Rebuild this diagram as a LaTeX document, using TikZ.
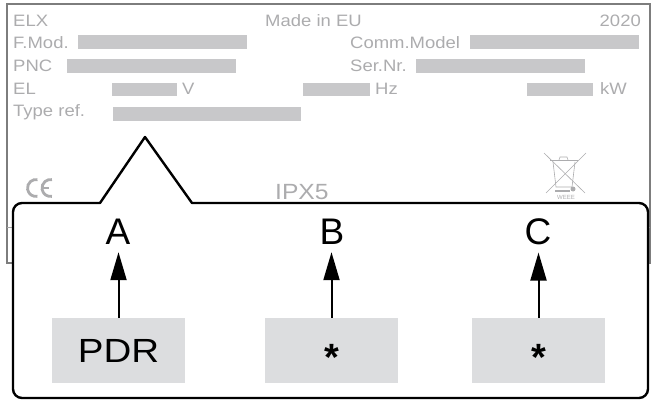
\documentclass[tikz,border=0pt]{standalone}
\usepackage{fontspec}
\setmainfont{Liberation Sans}
\newfontfamily\platefont[FakeStretch=1.12]{Liberation Sans}
\newfontfamily\valfont[FakeStretch=1.15]{Liberation Sans}
\usetikzlibrary{arrows.meta}
\definecolor{ptext}{RGB}{172,172,174}
\definecolor{pbar}{RGB}{200,200,202}
\definecolor{pframe}{RGB}{125,125,125}
\definecolor{gboxc}{RGB}{220,221,223}
\begin{document}
\begin{tikzpicture}[x=1pt,y=-1pt,
  ptxt/.style={font=\platefont\fontsize{16.5}{18}\selectfont, text=ptext, inner sep=0pt, anchor=base west},
  barfill/.style={fill=pbar, draw=none},
  callout/.style={draw=black, line width=2.4pt, fill=white, line join=round},
  lbl/.style={font=\fontsize{37}{40}\selectfont, inner sep=0pt, anchor=base},
  valbox/.style={fill=gboxc, minimum width=133pt, minimum height=65pt, inner sep=0pt, font=\valfont\fontsize{33.5}{36}\selectfont},
  star/.style={font=\bfseries\fontsize{38}{40}\selectfont},
  arr/.style={line width=2pt, -{Triangle[length=28pt,width=16pt]}},
  markline/.style={draw=ptext, line width=2.8pt},
  weeeline/.style={draw=ptext, line width=0.6pt}
]
\useasboundingbox (0,0) rectangle (652,401);
% plate
\draw[pframe, line width=1.3pt] (7,4) rectangle (650,263);
\draw[pframe!70, line width=0.8pt] (7,227) -- (650,227);
% rows
\node[ptxt] (t1) at (13,27) {ELX};
\node[ptxt] (t2) at (265,27) {Made in EU};
\node[ptxt, anchor=base east] (t3) at (641,27) {2020};
\node[ptxt] (t4) at (13,49) {F.Mod.};
\fill[barfill] (78,35) rectangle (247,49);
\node[ptxt] (t5) at (350,49) {Comm.Model};
\fill[barfill] (470,35) rectangle (639,49);
\node[ptxt] (t6) at (13,72) {PNC};
\fill[barfill] (67,59) rectangle (236,73);
\node[ptxt] (t7) at (350,72) {Ser.Nr.};
\fill[barfill] (416,59) rectangle (585,73);
\node[ptxt] (t8) at (13,95) {EL};
\fill[barfill] (112,83) rectangle (177,96);
\node[ptxt] (t9) at (182,95) {V};
\fill[barfill] (303,83) rectangle (370,96);
\node[ptxt] (t10) at (375,95) {Hz};
\fill[barfill] (527,83) rectangle (593,96);
\node[ptxt] (t11) at (600,95) {kW};
\node[ptxt] (t12) at (13,117) {Type ref.};
\fill[barfill] (113,107) rectangle (301,121);
% CE mark
\draw[markline] (36,188) ++(80:8.5) arc[start angle=80, end angle=280, radius=8.5];
\draw[markline] (50.5,188) ++(80:8.5) arc[start angle=80, end angle=280, radius=8.5];
\draw[ptext, line width=2.4pt] (42,188) -- (49,188);
% IPX5
\node[ptxt, font=\platefont\fontsize{22}{24}\selectfont] (ipx) at (275,199) {IPX5};
% WEEE
\draw[weeeline] (544,153) -- (585,193);
\draw[weeeline] (586,153) -- (546,193);
\draw[weeeline] (553,162) -- (556,187) -- (572,187) -- (575,162);
\draw[weeeline] (550,160) -- (578,160);
\draw[weeeline] (559,160) -- (560,157) -- (567,157) -- (568,160);
\draw[ptext, line width=1.4pt] (555,191) -- (570,191);
\fill[ptext] (573,189) circle (2.5);
\node[font=\fontsize{6}{7}\selectfont, text=ptext, inner sep=0pt] (weee) at (566,197.5) {WEEE};
% callout
\draw[callout] (192,203) [rounded corners=9pt] -- (648,203) -- (648,398) -- (13,398) -- (13,203) [sharp corners] -- (100,203) -- (145,137) -- cycle;
% value boxes
\node[valbox] (ba) at (118.5,350.5) {PDR};
\node[valbox, star] (bb) at (331.5,350.5) {\smash{\raisebox{-20pt}{*}}};
\node[valbox, star] (bc) at (538.5,350.5) {\smash{\raisebox{-20pt}{*}}};
\node[lbl] (la) at (118,244) {A};
\node[lbl] (lb) at (332,244) {B};
\node[lbl] (lc) at (538,244) {C};
\draw[arr] (ba.north) -- ([yshift=-8pt]ba.north |- la.south);
\draw[arr] (bb.north) -- ([yshift=-8pt]bb.north |- lb.south);
\draw[arr] (bc.north) -- ([yshift=-8pt]bc.north |- lc.south);
\end{tikzpicture}
\end{document}
